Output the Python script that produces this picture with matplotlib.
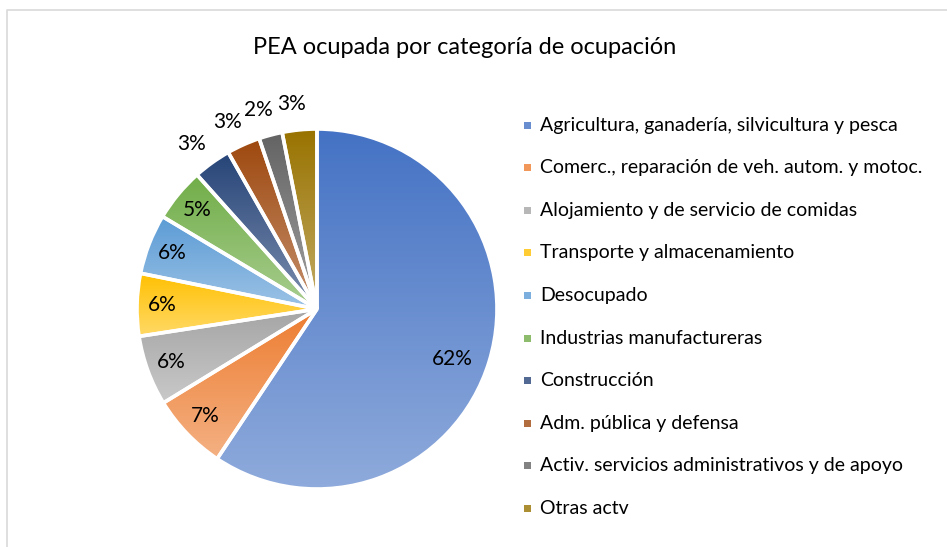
import matplotlib
matplotlib.use('Agg')
import matplotlib.pyplot as plt
import numpy as np
from matplotlib.colors import to_rgb
from matplotlib.patches import Rectangle
from matplotlib.lines import Line2D

title = 'PEA ocupada por categoría de ocupación'
categories = [
    'Agricultura, ganadería, silvicultura y pesca',
    'Comerc., reparación de veh. autom. y motoc.',
    'Alojamiento y de servicio de comidas',
    'Transporte y almacenamiento',
    'Desocupado',
    'Industrias manufactureras',
    'Construcción',
    'Adm. pública y defensa',
    'Activ. servicios administrativos y de apoyo',
    'Otras actv',
]
# slice sizes as drawn (share of the circle, %)
shares = [59.3, 6.9, 6.3, 5.6, 5.4, 4.8, 3.4, 3.0, 2.1, 3.1]
# data labels as printed on the chart
pct_labels = ['62%', '7%', '6%', '6%', '6%', '5%', '3%', '3%', '2%', '3%']
colors = ['#4472C4', '#ED7D31', '#A5A5A5', '#FFC000', '#5B9BD5',
          '#70AD47', '#264478', '#9E480E', '#636363', '#997300']

plt.rcParams['font.family'] = ['Lato', 'DejaVu Sans']

W, H = 947, 547
fig = plt.figure(figsize=(W / 100, H / 100), dpi=100)
fig.patch.set_facecolor('white')

cx, cy, R = 317, 309, 180
size = 420
ax = fig.add_axes([(cx - size / 2) / W, (H - cy - size / 2) / H, size / W, size / H])
wedges, _ = ax.pie(shares, colors=colors, startangle=90, counterclock=False, radius=1,
                   wedgeprops=dict(edgecolor='white', linewidth=2.6))


def tint(c, f):
    b = np.array(to_rgb(c))
    return b + (1 - b) * f


t = np.linspace(0, 1, 256)[:, None]
for w, c in zip(wedges, colors):
    base = tint(c, 0.0)
    light = tint(c, 0.4)
    grad = (base[None, :] * (1 - t) + light[None, :] * t)[:, None, :]
    bb = w.get_path().get_extents()
    im = ax.imshow(grad, extent=(bb.x0, bb.x1, bb.y0, bb.y1), origin='upper',
                   aspect='auto', interpolation='bilinear', zorder=0.5)
    im.set_clip_path(w)
    w.set_facecolor('none')
    w.set_zorder(2)

lim = size / 2 / R
ax.set_xlim(-lim, lim)
ax.set_ylim(-lim, lim)
ax.set_aspect('equal')
ax.axis('off')

for w, s, lab in zip(wedges, shares, pct_labels):
    mid = (w.theta1 + w.theta2) / 2
    if s > 30:
        d = 0.8
        ang = mid - 3.5
    elif s >= 4:
        d = 0.86
        ang = mid
    else:
        d = 1.15
        ang = mid + 1.5
    th = np.deg2rad(ang)
    ax.text(d * np.cos(th), d * np.sin(th), lab, ha='center', va='center',
            fontsize=15, color='#000000', zorder=5)

# Legend
y0, dy = 125, 42.6
for i, (cat, c) in enumerate(zip(categories, colors)):
    y = y0 + i * dy
    mid = tint(c, 0.2)
    fig.add_artist(Rectangle((524 / W, 1 - (y + 3.5) / H), 7 / W, 7 / H,
                             transform=fig.transFigure, facecolor=mid, edgecolor='none'))
    fig.text(540 / W, 1 - y / H, cat, ha='left', va='center', fontsize=14, color='#000000')

fig.text(465 / W, 1 - 47 / H, title, ha='center', va='center', fontsize=17, color='#000000')

# chart border
fig.add_artist(Line2D([6.5 / W, 6.5 / W, 1.0], [0.0, 1 - 9.5 / H, 1 - 9.5 / H],
                      transform=fig.transFigure, color='#D9D9D9', linewidth=1.2))

fig.savefig('out.png', dpi=100, facecolor='white')
